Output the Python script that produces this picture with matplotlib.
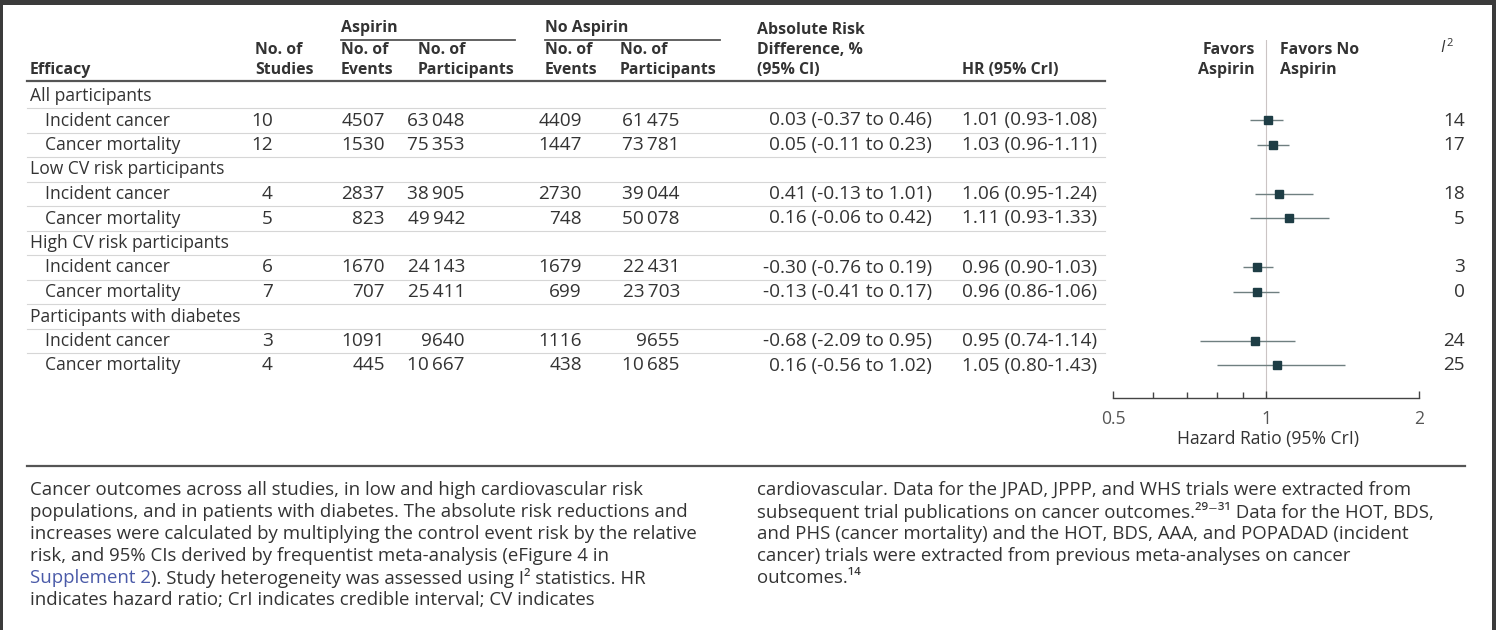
import matplotlib
matplotlib.use("Agg")
import matplotlib.pyplot as plt
from matplotlib.patches import Rectangle
from matplotlib.ticker import FixedLocator, NullFormatter

plt.rcParams['font.family'] = ['Open Sans', 'DejaVu Sans']

groups = ['All participants', 'Low CV risk participants',
          'High CV risk participants', 'Participants with diabetes']
outcomes = ['Incident cancer', 'Cancer mortality']
n_studies = [10, 12, 4, 5, 6, 7, 3, 4]
asp_events = [4507, 1530, 2837, 823, 1670, 707, 1091, 445]
asp_participants = [63048, 75353, 38905, 49942, 24143, 25411, 9640, 10667]
noasp_events = [4409, 1447, 2730, 748, 1679, 699, 1116, 438]
noasp_participants = [61475, 73781, 39044, 50078, 22431, 23703, 9655, 10685]
ard = [0.03, 0.05, 0.41, 0.16, -0.30, -0.13, -0.68, 0.16]
ard_lo = [-0.37, -0.11, -0.13, -0.06, -0.76, -0.41, -2.09, -0.56]
ard_hi = [0.46, 0.23, 1.01, 0.42, 0.19, 0.17, 0.95, 1.02]
hr = [1.01, 1.03, 1.06, 1.11, 0.96, 0.96, 0.95, 1.05]
hr_lo = [0.93, 0.96, 0.95, 0.93, 0.90, 0.86, 0.74, 0.80]
hr_hi = [1.08, 1.11, 1.24, 1.33, 1.03, 1.06, 1.14, 1.43]
i2 = [14, 17, 18, 5, 3, 0, 24, 25]

caption_left = [
    "Cancer outcomes across all studies, in low and high cardiovascular risk",
    "populations, and in patients with diabetes. The absolute risk reductions and",
    "increases were calculated by multiplying the control event risk by the relative",
    "risk, and 95% CIs derived by frequentist meta-analysis (eFigure 4 in",
    None,
    "indicates hazard ratio; CrI indicates credible interval; CV indicates",
]
caption_right = [
    "cardiovascular. Data for the JPAD, JPPP, and WHS trials were extracted from",
    "subsequent trial publications on cancer outcomes.\u00b2\u2079\u207b\u00b3\u00b9 Data for the HOT, BDS,",
    "and PHS (cancer mortality) and the HOT, BDS, AAA, and POPADAD (incident",
    "cancer) trials were extracted from previous meta-analyses on cancer",
    "outcomes.\u00b9\u2074",
]

W, H = 1496, 630
TXT = '#333333'


def fmt_n(n):
    s = str(n)
    if len(s) > 4:
        s = s[:-3] + '\u2009' + s[-3:]
    return s


fig = plt.figure(figsize=(W / 100, H / 100), dpi=100)
ax = fig.add_axes([0, 0, 1, 1])
ax.set_xlim(0, W)
ax.set_ylim(H, 0)
ax.axis('off')
renderer = fig.canvas.get_renderer()


def fit_size(s, target_px, weight='normal'):
    # pick a font size so that s is about target_px wide
    t = ax.text(0, 0, s, fontsize=10, fontweight=weight)
    w = t.get_window_extent(renderer=renderer).width
    t.remove()
    return 10 * target_px / w


HDR = fit_size('Participants', 97, 'bold')
BODY = fit_size('Low CV risk participants', 195)
NUM = fit_size('0.03 (-0.37 to 0.46)', 163)
CAP = fit_size('populations, and in patients with diabetes. The absolute risk reductions and', 660)

# frame
ax.add_patch(Rectangle((0, 0), W, 5, color='#3b3b3b', lw=0))
ax.add_patch(Rectangle((0, 0), 3, H, color='#3b3b3b', lw=0))
ax.add_patch(Rectangle((W - 4, 0), 4, H, color='#3b3b3b', lw=0))


# header
def hdr(x, y, s, ha='left'):
    ax.text(x, y, s, ha=ha, va='center', fontsize=HDR, fontweight='bold', color=TXT)


hdr(341, 28, 'Aspirin')
hdr(545, 28, 'No Aspirin')
ax.plot([341, 515], [40, 40], color='#555555', lw=1.3)
ax.plot([545, 720], [40, 40], color='#555555', lw=1.3)
hdr(30, 70, 'Efficacy')
for x, s in [(255, 'Studies'), (341, 'Events'), (418, 'Participants'),
             (545, 'Events'), (620, 'Participants')]:
    hdr(x, 50, 'No. of')
    hdr(x, 70, s)
hdr(757, 30, 'Absolute Risk')
hdr(757, 50, 'Difference, %')
hdr(757, 70, '(95% CI)')
hdr(962, 70, 'HR (95% CrI)')
hdr(1255, 50, 'Favors', ha='right')
hdr(1255, 70, 'Aspirin', ha='right')
hdr(1280, 50, 'Favors No')
hdr(1280, 70, 'Aspirin')
ax.text(1440, 48, 'I', ha='left', va='center', fontsize=HDR, style='italic', color=TXT)
ax.text(1446, 43, '2', ha='left', va='center', fontsize=HDR * 0.7, color=TXT)
ax.plot([27, 1105], [81, 81], color='#555555', lw=1.6)

# table body
y0, step = 96, 24.5
row_y = []
for g, grp in enumerate(groups):
    gy = y0 + 3 * g * step
    ax.text(30, gy, grp, ha='left', va='center', fontsize=BODY, color=TXT)
    for o, name in enumerate(outcomes):
        i = 2 * g + o
        y = gy + (o + 1) * step
        row_y.append(y)
        ax.text(45, y, name, ha='left', va='center', fontsize=BODY, color=TXT)
        cells = [
            (273, str(n_studies[i]), 'right'),
            (385, fmt_n(asp_events[i]), 'right'),
            (465, fmt_n(asp_participants[i]), 'right'),
            (582, fmt_n(noasp_events[i]), 'right'),
            (680, fmt_n(noasp_participants[i]), 'right'),
            (932, f'{ard[i]:.2f} ({ard_lo[i]:.2f} to {ard_hi[i]:.2f})', 'right'),
            (962, f'{hr[i]:.2f} ({hr_lo[i]:.2f}-{hr_hi[i]:.2f})', 'left'),
            (1465, str(i2[i]), 'right'),
        ]
        for x, s, ha in cells:
            ax.text(x, y, s, ha=ha, va='center', fontsize=NUM, color=TXT)

for k in range(11):
    yy = y0 + (k + 0.5) * step
    ax.plot([27, 1105], [yy, yy], color='#d6d6d6', lw=0.8)

# forest plot
fx0, fx1, ftop, fbot = 1113, 1419, 40, 398
fax = fig.add_axes([fx0 / W, 1 - fbot / H, (fx1 - fx0) / W, (fbot - ftop) / H])
fax.patch.set_visible(False)
fax.set_xscale('log')
fax.set_xlim(0.5, 2)
fax.set_ylim(fbot, ftop)
fax.axvline(1, color='#cbc4c4', lw=0.8, zorder=0)
fax.hlines(row_y, hr_lo, hr_hi, color='#6f7f80', lw=1.0)
fax.plot(hr, row_y, 's', color='#1e3d45', markersize=5.8, lw=0)
for s in ['top', 'left', 'right']:
    fax.spines[s].set_visible(False)
fax.spines['bottom'].set_color('#444444')
fax.spines['bottom'].set_linewidth(1.0)
fax.set_yticks([])
fax.xaxis.set_major_locator(FixedLocator([0.5, 1, 2]))
fax.set_xticklabels(['0.5', '1', '2'])
fax.xaxis.set_minor_locator(FixedLocator([0.6, 0.7, 0.8, 0.9]))
fax.xaxis.set_minor_formatter(NullFormatter())
fax.tick_params(axis='x', which='major', direction='in', length=5, width=1,
                color='#444444', labelsize=BODY, labelcolor='#555555', pad=9)
fax.tick_params(axis='x', which='minor', direction='in', length=4, width=1, color='#444444')
ax.text(1268, 439, 'Hazard Ratio (95% CrI)', ha='center', va='center', fontsize=BODY, color=TXT)

# caption
ax.plot([27, 1465], [466, 466], color='#555555', lw=1.6)
cy, cstep = 490, 22
for k, line in enumerate(caption_left):
    y = cy + k * cstep
    if line is None:
        t1 = ax.text(30, y, 'Supplement 2', ha='left', va='center', fontsize=CAP, color='#4a5aa8')
        ax.annotate('). Study heterogeneity was assessed using I\u00b2 statistics. HR',
                    xy=(1, 0.5), xycoords=t1, ha='left', va='center',
                    fontsize=CAP, color=TXT)
    else:
        ax.text(30, y, line, ha='left', va='center', fontsize=CAP, color=TXT)
for k, line in enumerate(caption_right):
    ax.text(757, cy + k * cstep, line, ha='left', va='center', fontsize=CAP, color=TXT)

fig.savefig('out.png', dpi=100)
